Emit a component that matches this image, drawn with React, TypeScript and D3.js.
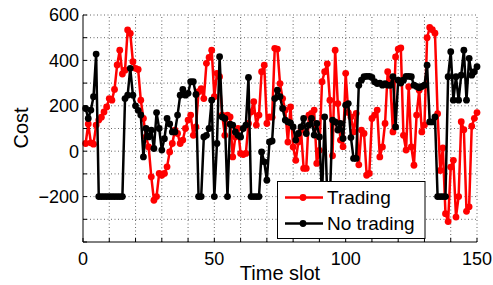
import React, { useEffect, useRef } from 'react'
import * as d3 from 'd3'

// cost per time slot
const trading = [
  34, 120, 37, 31, 115, 137, 150, 173, 195, 232,
  225, 272, 380, 445, 340, 357, 534, 519, 394, 365,
  360, 225, 144, 63, 19, -113, -216, -200, -98, -106,
  -98, -69, -3, 34, 93, 78, 34, 49, 100, 137,
  159, 70, 107, 262, 276, 232, 387, 413, 445, 240,
  343, 328, 159, 70, 159, 151, -25, 63, 100, -10,
  -15, -10, 122, 173, 218, 115, 159, 350, 379, 122,
  151, 150, 453, 450, 298, 232, 181, 40, 195, 19,
  -40, 41, 93, -76, -76, 159, 166, 181, -54, 4,
  306, 350, 385, 225, -20, 445, 210, 49, 20, 343,
  170, 151, 85, 166, -60, 93, 78, -106, -98, 144,
  159, 181, -25, 19, 122, 350, 298, 85, 415, 450,
  455, 70, 5, 284, 19, -62, 159, 269, 85, 115,
  500, 545, 535, 520, 165, -85, 15, -275, -310, -70,
  -40, -290, -200, 130, 95, -265, -245, 110, 145, 170,
]

const noTrading = [
  188, 144, 181, 240, 428, -200, -200, -200, -200, -200,
  -200, -200, -200, -200, -200, 232, 247, 365, 247, 200,
  180, 160, -25, 100, 63, 93, 12, 170, 100, 5,
  55, 144, 120, 85, 85, 159, 247, 272, 247, 255,
  306, 306, 250, -200, -200, 63, 70, 100, 225, -200,
  34, 416, 151, 144, -200, 119, 115, 85, 70, 63,
  100, 115, 325, -200, -200, -200, -200, -3, -47, -128,
  41, 45, 232, 269, 240, 188, 137, 129, 125, 107,
  49, 78, 107, 144, 78, 115, 144, 71, 122, 63,
  -200, 151, -200, -200, 137, 129, 93, 122, 56, 203,
  210, 60, -32, -32, 291, 313, 328, 330, 330, 325,
  306, 298, 300, 291, 298, 291, 290, 328, 107, 313,
  300, 313, 330, 330, 328, 291, 285, 280, 285, 291,
  379, 129, 129, 151, -200, -200, -200, -200, 328, 438,
  225, 328, 225, 335, 445, 225, 409, 335, 350, 372,
]

const xTicks = [0, 50, 100, 150]
const yTicks = [-200, 0, 200, 400, 600]
const seriesNames = ['Trading', 'No trading']
const seriesColors = ['#ff0000', '#000000']

const App = () => {
  const svgRef = useRef(null)

  useEffect(() => {
    const width = 493
    const height = 285
    const font = 'Liberation Sans, Arial, Helvetica, sans-serif'

    const x = d3.scaleLinear().domain([0, 150]).range([83, 477])
    const y = d3.scaleLinear().domain([-400, 600]).range([242, 15])

    const svg = d3.select(svgRef.current).attr('width', width).attr('height', height)
    svg.selectAll('*').remove()

    // dotted grid (every 10 slots, every 100 cost)
    const grid = svg.append('g')
    d3.range(10, 151, 10).forEach((t) => {
      grid
        .append('line')
        .attr('x1', x(t))
        .attr('x2', x(t))
        .attr('y1', y(-400))
        .attr('y2', y(600))
        .attr('stroke', '#666')
        .attr('stroke-dasharray', '1,2.5')
    })
    d3.range(-300, 601, 100).forEach((v) => {
      grid
        .append('line')
        .attr('x1', x(0))
        .attr('x2', x(150))
        .attr('y1', y(v))
        .attr('y2', y(v))
        .attr('stroke', '#666')
        .attr('stroke-dasharray', '1,2.5')
    })

    // series
    const line = d3
      .line()
      .x((d, i) => x(i + 1))
      .y((d) => y(d))
    ;[trading, noTrading].forEach((s, k) => {
      const g = svg.append('g')
      g.append('path')
        .attr('d', line(s))
        .attr('fill', 'none')
        .attr('stroke', seriesColors[k])
        .attr('stroke-width', 2.5)
        .attr('stroke-linejoin', 'round')
      g.selectAll('circle')
        .data(s)
        .enter()
        .append('circle')
        .attr('cx', (d, i) => x(i + 1))
        .attr('cy', (d) => y(d))
        .attr('r', 3.4)
        .attr('fill', seriesColors[k])
    })

    // axes
    const ax = svg.append('g').attr('stroke', '#000').attr('stroke-width', 1)
    ax.append('line').attr('x1', x(0)).attr('x2', x(0)).attr('y1', y(-400)).attr('y2', y(600))
    ax.append('line').attr('x1', x(0)).attr('x2', x(150)).attr('y1', y(-400)).attr('y2', y(-400))
    d3.range(0, 151, 10).forEach((t) => {
      ax.append('line').attr('x1', x(t)).attr('x2', x(t)).attr('y1', y(-400)).attr('y2', y(-400) - 4)
    })
    d3.range(-400, 601, 100).forEach((v) => {
      ax.append('line').attr('x1', x(0)).attr('x2', x(0) + 4).attr('y1', y(v)).attr('y2', y(v))
    })

    const fmt = d3.format('d')
    svg
      .selectAll('.ytick')
      .data(yTicks)
      .enter()
      .append('text')
      .attr('x', x(0) - 4)
      .attr('y', (d) => y(d))
      .attr('dy', '0.35em')
      .attr('text-anchor', 'end')
      .style('font-family', font)
      .style('font-size', '18px')
      .text((d) => fmt(d))
    svg
      .selectAll('.xtick')
      .data(xTicks)
      .enter()
      .append('text')
      .attr('x', (d) => x(d))
      .attr('y', 265)
      .attr('text-anchor', 'middle')
      .style('font-family', font)
      .style('font-size', '18px')
      .text((d) => d)

    svg
      .append('text')
      .attr('x', 280)
      .attr('y', 280)
      .attr('text-anchor', 'middle')
      .style('font-family', font)
      .style('font-size', '20px')
      .text('Time slot')
    svg
      .append('text')
      .attr('transform', 'translate(28,128) rotate(-90)')
      .attr('text-anchor', 'middle')
      .style('font-family', font)
      .style('font-size', '20px')
      .text('Cost')

    // legend
    const legend = svg.append('g')
    legend
      .append('rect')
      .attr('x', 277.5)
      .attr('y', 181.5)
      .attr('width', 147.5)
      .attr('height', 57)
      .attr('fill', '#fff')
      .attr('stroke', '#000')
    seriesNames.forEach((name, i) => {
      const ly = 197.5 + i * 26
      legend
        .append('line')
        .attr('x1', 285)
        .attr('x2', 323)
        .attr('y1', ly)
        .attr('y2', ly)
        .attr('stroke', seriesColors[i])
        .attr('stroke-width', 2.5)
      legend.append('circle').attr('cx', 303).attr('cy', ly).attr('r', 3.4).attr('fill', seriesColors[i])
      legend
        .append('text')
        .attr('x', 327)
        .attr('y', ly)
        .attr('dy', '0.35em')
        .style('font-family', font)
        .style('font-size', '19px')
        .text(name)
    })
  }, [])

  return (
    <div style={{ position: 'absolute', left: 0, top: 0 }}>
      <svg ref={svgRef}></svg>
    </div>
  )
}

export default App
